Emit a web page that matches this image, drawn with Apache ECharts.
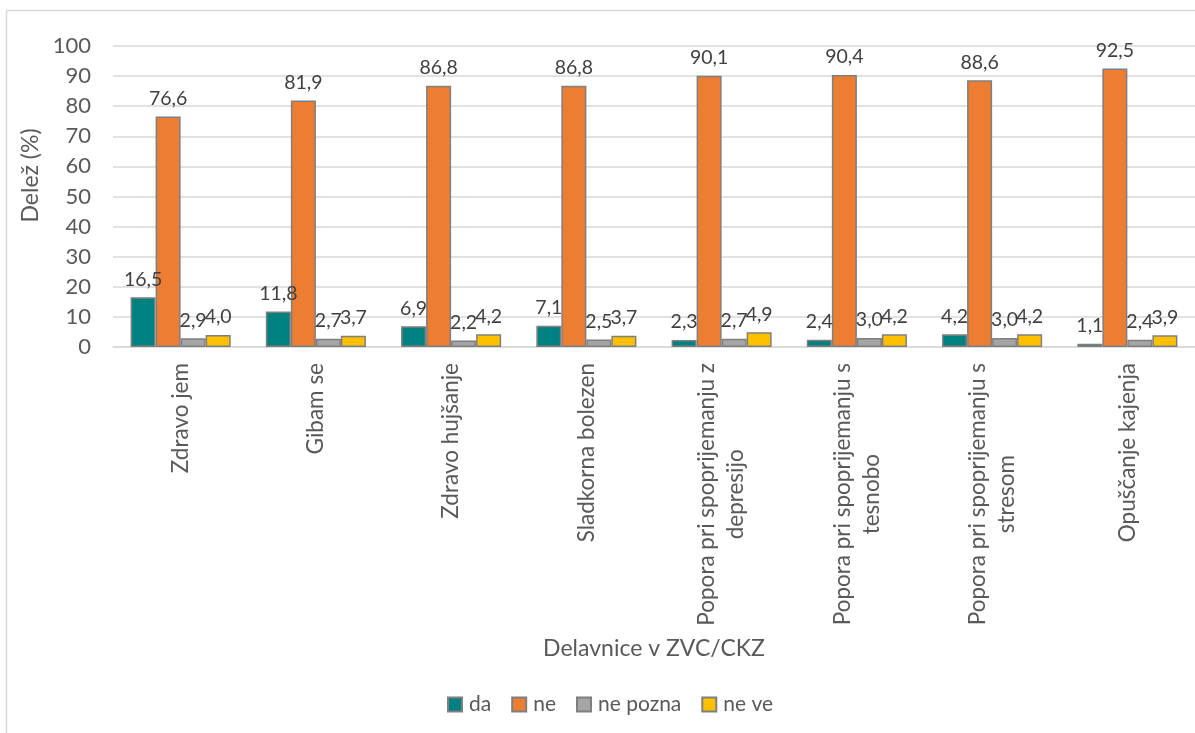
<!DOCTYPE html>
<html>
<head>
<meta charset="utf-8">
<script src="https://cdn.jsdelivr.net/npm/echarts@6/dist/echarts.min.js"></script>
<style>
  html, body { margin: 0; padding: 0; background: #fff; }
  #chart { width: 1195px; height: 733px; }
</style>
</head>
<body>
<div id="chart"></div>
<script>
const categories = [
  'Zdravo jem',
  'Gibam se',
  'Zdravo hujšanje',
  'Sladkorna bolezen',
  'Popora pri spoprijemanju z\ndepresijo',
  'Popora pri spoprijemanju s\ntesnobo',
  'Popora pri spoprijemanju s\nstresom',
  'Opuščanje kajenja'
];
const da = [16.5, 11.8, 6.9, 7.1, 2.3, 2.4, 4.2, 1.1];
const ne = [76.6, 81.9, 86.8, 86.8, 90.1, 90.4, 88.6, 92.5];
const nePozna = [2.9, 2.7, 2.2, 2.5, 2.7, 3.0, 3.0, 2.4];
const neVe = [4.0, 3.7, 4.2, 3.7, 4.9, 4.2, 4.2, 3.9];

const seriesNames = ['da', 'ne', 'ne pozna', 'ne ve'];
const seriesData = [da, ne, nePozna, neVe];
const colors = ['#008080', '#ED7D31', '#A5A5A5', '#FFC000'];

const font = 'Lato';
const myChart = echarts.init(document.getElementById('chart'));

let option = {
  animation: false,
  color: colors,
  graphic: [{
    type: 'rect',
    shape: { x: 6.5, y: 10.5, width: 1300, height: 900 },
    style: { fill: 'none', stroke: '#D9D9D9', lineWidth: 1.5 },
    silent: true
  }],
  grid: { left: 113, right: -1, top: 46, bottom: 386 },
  legend: {
    bottom: 13,
    left: 442,
    itemWidth: 14,
    itemHeight: 14,
    itemGap: 20,
    icon: 'rect',
    textStyle: { fontFamily: font, fontSize: 21, color: '#595959', padding: [0, 0, 0, 2] },
    data: seriesNames
  },
  xAxis: {
    type: 'category',
    data: categories,
    name: 'Delavnice v ZVC/CKZ',
    nameLocation: 'middle',
    nameGap: 290,
    nameTextStyle: { fontFamily: font, fontSize: 23, color: '#595959' },
    axisLine: { lineStyle: { color: '#D9D9D9', width: 1.5 } },
    axisTick: { show: false },
    axisLabel: {
      rotate: 90,
      margin: 16,
      interval: 0,
      fontFamily: font,
      fontSize: 22.5,
      color: '#595959',
      lineHeight: 29,
      formatter: v => v.split('\n').map(s => '{c|' + s + '}').join('\n'),
      rich: { c: { align: 'center', fontFamily: font, fontSize: 22.5, color: '#595959', lineHeight: 29 } }
    }
  },
  yAxis: {
    type: 'value',
    min: 0,
    max: 100,
    interval: 10,
    name: 'Delež (%)',
    nameLocation: 'middle',
    nameGap: 63,
    nameTextStyle: { fontFamily: font, fontSize: 23, color: '#595959', padding: [0, 0, 0, 42] },
    axisLine: { show: false },
    axisTick: { show: false },
    axisLabel: { margin: 22, fontFamily: font, fontSize: 22, color: '#595959' },
    splitLine: { lineStyle: { color: '#D9D9D9', width: 1.5 } }
  },
  series: seriesNames.map((name, i) => ({
    type: 'bar',
    name: name,
    data: seriesData[i],
    barGap: '0%',
    barCategoryGap: '26%',
    itemStyle: { borderColor: '#7F7F7F', borderWidth: 1.5 },
    label: {
      show: true,
      position: 'top',
      distance: 8,
      fontFamily: font,
      fontSize: 19.5,
      color: '#404040',
      formatter: p => p.value.toFixed(1).replace('.', ',')
    }
  }))
};
option && myChart.setOption(option);
</script>
</body>
</html>
